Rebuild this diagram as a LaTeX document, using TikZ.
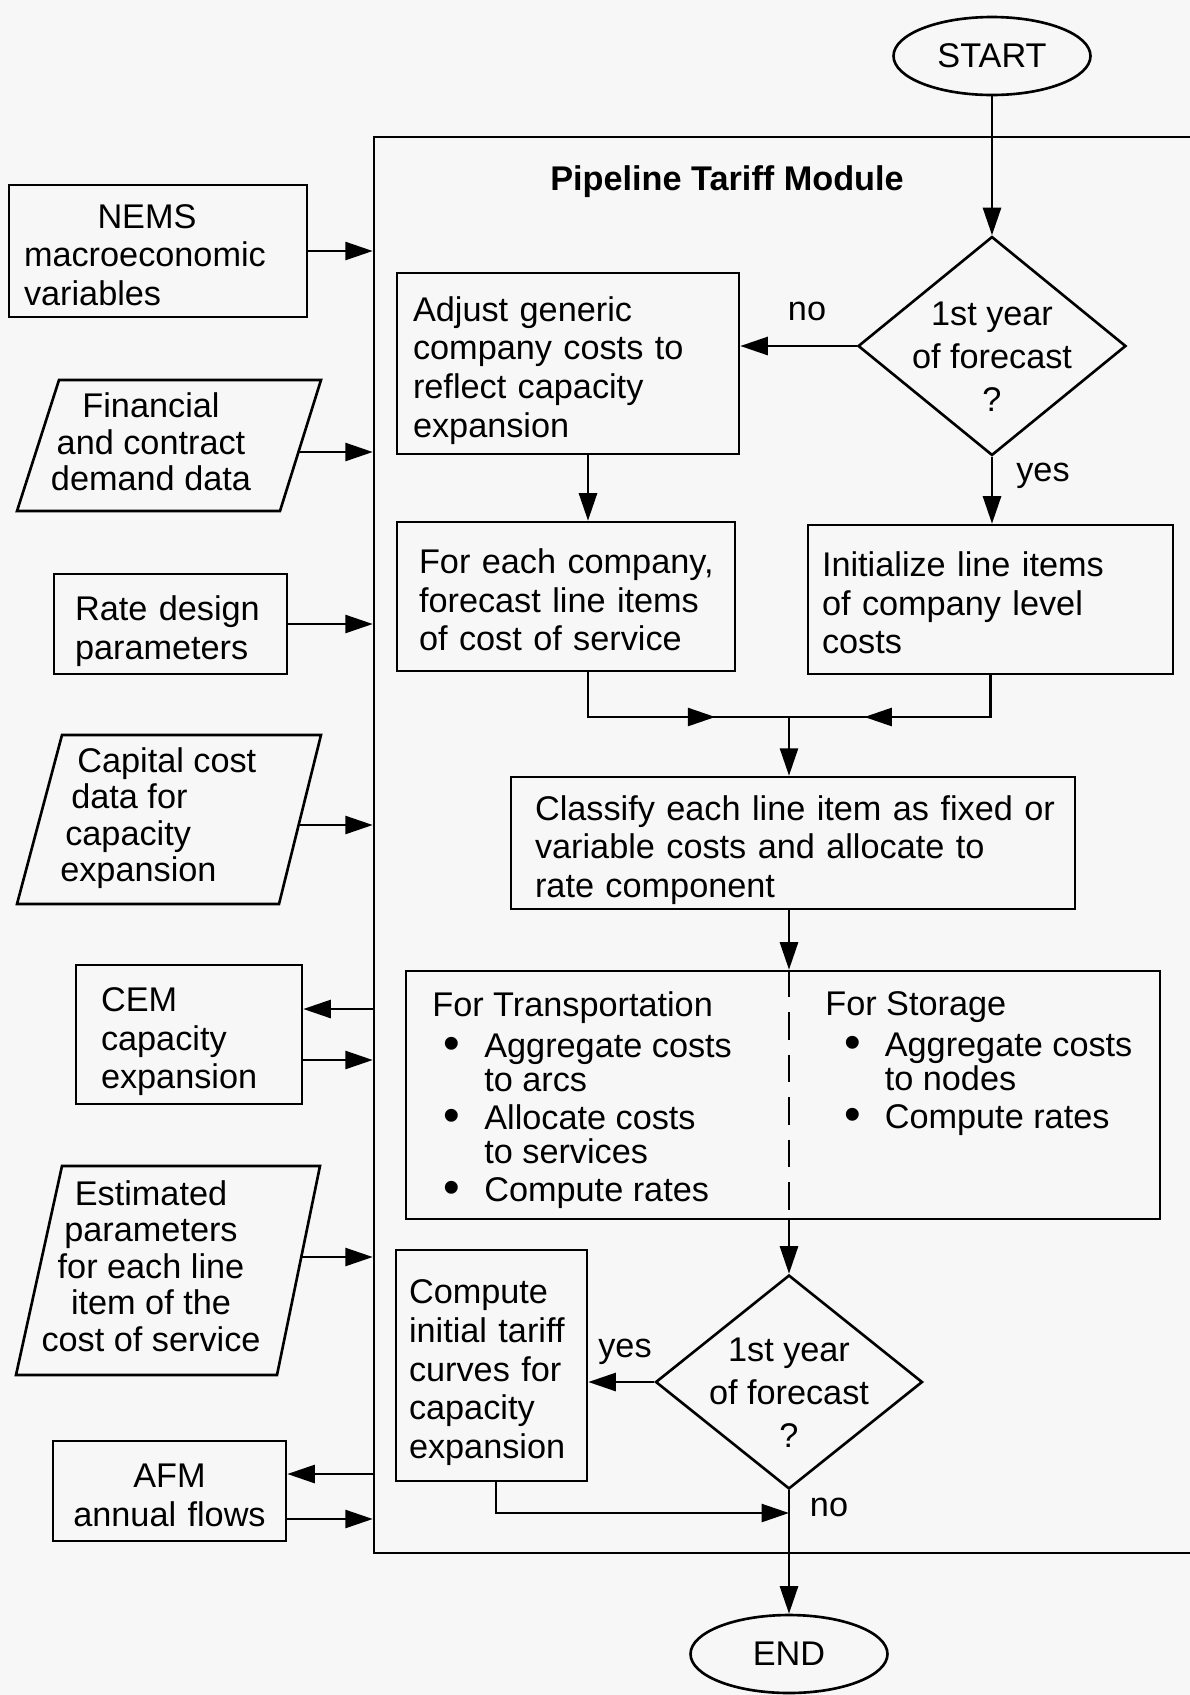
\documentclass[tikz,border=0pt]{standalone}
\usepackage{fontspec}
\setmainfont{Liberation Sans}
\usetikzlibrary{arrows.meta, shapes.geometric, decorations.markings}
\definecolor{paper}{HTML}{F7F7F7}

\newcommand{\bulx}[2]{\makebox[#1][l]{\hspace*{#2}\raisebox{-0.04cm}{\fontsize{27}{27}\selectfont\textbullet}}}
\newcommand{\bul}{\bulx{1.04cm}{0.22cm}}
\newcommand{\ind}{\hspace*{1.04cm}}

\begin{document}
\begin{tikzpicture}[
    x=0.02cm, y=-0.02cm,
    font=\fontsize{19.5}{22}\selectfont,
    line width=1.5pt,
    arr/.style={-{Triangle[length=0.55cm, width=0.36cm]}},
    box/.style={draw, rectangle, align=left, inner ysep=0pt,
        execute at begin node=\rule{0pt}{0.86cm}, execute at end node=\strut},
    ptxt/.style={inner sep=0pt, font=\fontsize{19.5}{20.8}\selectfont},
    qtxt/.style={inner sep=0pt, align=center, font=\fontsize{19.5}{24.5}\selectfont},
    term/.style={draw, ellipse, minimum width=3.94cm, minimum height=1.56cm, inner sep=0pt},
    decision/.style={draw, diamond, minimum width=5.36cm, minimum height=4.38cm, inner sep=0pt},
    lbl/.style={inner sep=0pt},
    midarrow/.style={postaction={decorate}, decoration={markings,
        mark=at position #1 with {\arrow{Triangle[length=0.55cm, width=0.36cm]}}}}
]
\fill[paper] (0,0) rectangle (1190,1695);
\useasboundingbox (0,0) rectangle (1190,1695);

% module frame (runs off the right edge)
\node[draw, minimum width=16.8cm, minimum height=28.32cm, inner sep=0pt] (module) at (794,845) {};
\node[lbl, font=\fontsize{19.5}{22}\selectfont\bfseries] (title) at (727,182) {Pipeline Tariff Module};

% inputs on the left
\node[box, minimum height=2.64cm, text width=5.36cm, inner xsep=0.3cm] (nems) at (158,251)
    {\hspace*{1.47cm}NEMS\\macroeconomic\\variables};

\draw (59,380) -- (321,380) -- (280,511) -- (17,511) -- cycle;
\node[ptxt, align=center] (fin) at (151,442) {Financial\\and contract\\demand data};
\coordinate (fin-out) at (299,452);

\node[box, minimum height=2.0cm, text width=3.82cm, inner xsep=0.42cm] (rate) at (170.5,624)
    {Rate~design\\parameters};

\draw (62,735) -- (321,735) -- (279,904) -- (17,904) -- cycle;
\node[ptxt, align=left, anchor=west] (cap) at (59,818)
    {\hspace*{0.34cm}Capital cost\\\hspace*{0.22cm}data for\\\hspace*{0.1cm}capacity\\expansion};
\coordinate (cap-out) at (299,825);

\node[box, minimum height=2.78cm, text width=3.52cm, inner xsep=0.5cm] (cem) at (189,1034.5)
    {CEM\\capacity\\expansion};
\coordinate (cem-in) at ([yshift=0.51cm]cem.east);
\coordinate (cem-out) at ([yshift=-0.51cm]cem.east);

\draw (62,1166) -- (320,1166) -- (277,1375) -- (16,1375) -- cycle;
\node[ptxt, align=center] (est) at (151,1266)
    {Estimated\\parameters\\for each line\\item of the\\cost of service};
\coordinate (est-out) at (301,1257);

\node[box, align=center, minimum height=2.0cm, text width=4.26cm, inner xsep=0.2cm] (afm) at (169.5,1491)
    {AFM\\annual flows};
\coordinate (afm-in) at ([yshift=0.34cm]afm.east);
\coordinate (afm-out) at ([yshift=-0.56cm]afm.east);

\draw[arr] (nems.east) -- (nems.east -| module.west);
\draw[arr] (fin-out) -- (fin-out -| module.west);
\draw[arr] (rate.east) -- (rate.east -| module.west);
\draw[arr] (cap-out) -- (cap-out -| module.west);
\draw[arr] (cem-in -| module.west) -- (cem-in);
\draw[arr] (cem-out) -- (cem-out -| module.west);
\draw[arr] (est-out) -- (est-out -| module.west);
\draw[arr] (afm-in -| module.west) -- (afm-in);
\draw[arr] (afm-out) -- (afm-out -| module.west);

% main flow
\node[term] (start) at (992,56) {START};
\node[decision] (q1) at (992,346) {};
\node[qtxt] (q1txt) at (992,357) {1st year\\of forecast\\?};

\node[box, minimum height=3.62cm, text width=6.2cm, inner xsep=0.32cm] (adjust) at (568,363.5)
    {Adjust generic\\company costs to\\reflect capacity\\expansion};
\node[box, minimum height=2.98cm, text width=5.88cm, inner xsep=0.44cm] (foreach) at (566,596.5)
    {\mbox{For each company,}\\\mbox{forecast line items}\\\mbox{of cost of service}};
\node[box, minimum height=2.98cm, text width=6.74cm, inner xsep=0.28cm] (init) at (990.5,599.5)
    {Initialize line items\\of company level\\costs};
\node[box, minimum height=2.6cm, text width=10.32cm, inner xsep=0.48cm] (classify) at (793,843)
    {\mbox{Classify each line item as fixed or}\\variable costs and allocate to\\rate component};

\node[draw, minimum width=15.08cm, minimum height=4.96cm, inner sep=0pt] (forbox) at (783,1095) {};
\node[ptxt, anchor=north west, align=left, font=\fontsize{19.5}{19.4}\selectfont] (trans) at (431,990)
    {For Transportation\\[0.14cm]\bul Aggregate costs\\\ind to arcs\\[0.08cm]\bul Allocate costs\\\ind to services\\[0.08cm]\bul Compute rates};
\node[ptxt, anchor=north west, align=left, font=\fontsize{19.5}{19.4}\selectfont] (stor) at (824,990)
    {For Storage\\[0.14cm]\bulx{1.19cm}{0.38cm}Aggregate costs\\\hspace*{1.19cm}to nodes\\[0.08cm]\bulx{1.19cm}{0.38cm}Compute rates};

\node[decision, minimum width=5.34cm, minimum height=4.28cm] (q2) at (789,1382) {};
\node[qtxt] (q2txt) at (789,1393) {1st year\\of forecast\\?};
\node[box, minimum height=4.62cm, text width=3.3cm, inner xsep=0.26cm] (compute) at (491.5,1365.5)
    {Compute\\\mbox{initial tariff}\\\mbox{curves for}\\capacity\\expansion};
\node[term] (endnode) at (789,1654) {END};

\coordinate (a1) at ([xshift=0.4cm]adjust.south);
\coordinate (merge) at (789,717);
\coordinate (join) at (789,1513);

\draw[arr] (start.south) -- (q1.north);
\draw[arr] (q1.west) -- (q1.west -| adjust.east);
\node[lbl] (no1) at (807,311) {no};
\draw[arr] (q1.south) -- (q1.south |- init.north);
\node[lbl] (yes1) at (1043,476) {yes};
\draw[arr] (a1) -- (a1 |- foreach.north);

\draw[midarrow=0.7] (a1 |- foreach.south) |- (merge);
\draw[midarrow=0.69] (init.south) |- (merge);
\draw[arr] (merge) -- (merge |- classify.north);
\draw[arr] (merge |- classify.south) -- (merge |- forbox.north);
\draw[line width=1.2pt, dash pattern=on 0.55cm off 0.3cm] (merge |- forbox.north) -- (merge |- forbox.south);
\draw[arr] (merge |- forbox.south) -- (q2.north);

\draw[arr] (q2.west) -- (q2.west -| compute.east);
\node[lbl] (yes2) at (625,1352) {yes};
\draw[arr] ([xshift=0.09cm]compute.south) |- (join);
\draw[arr] (q2.south) -- (endnode.north);
\node[lbl] (no2) at (829,1507) {no};
\end{tikzpicture}
\end{document}
